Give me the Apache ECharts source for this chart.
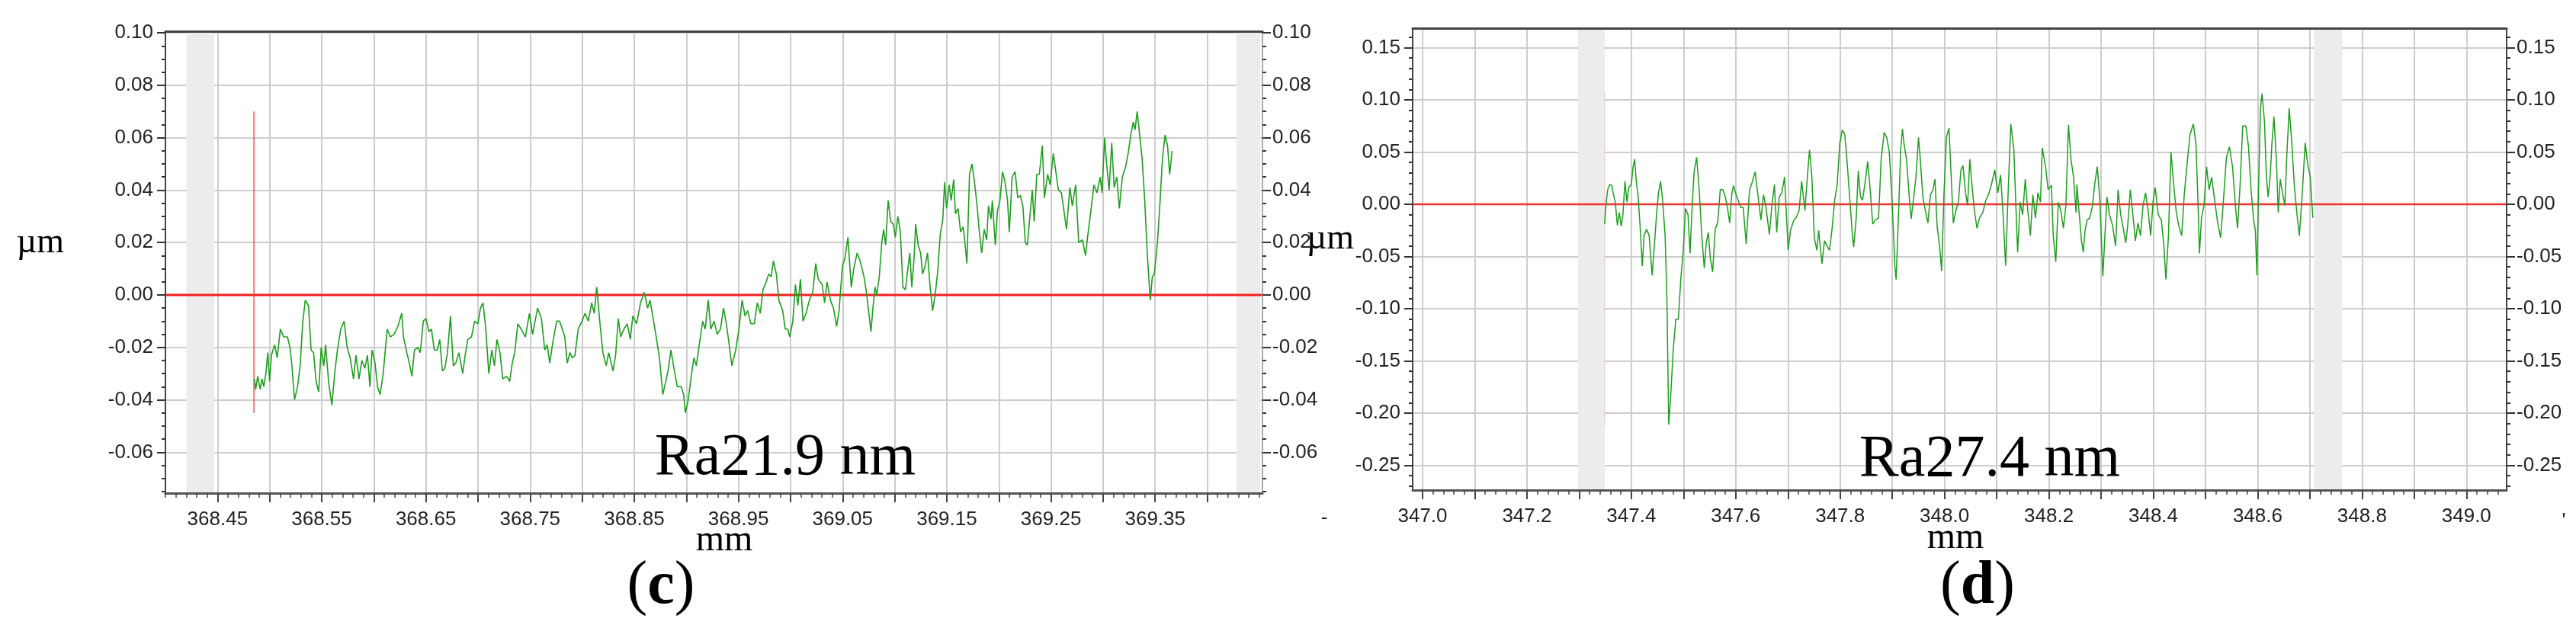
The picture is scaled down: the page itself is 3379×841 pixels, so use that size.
<!DOCTYPE html>
<html>
<head>
<meta charset="utf-8">
<script src="https://cdn.jsdelivr.net/npm/echarts@6/dist/echarts.min.js"></script>
<style>
html, body { margin: 0; padding: 0; background: #fff; }
#main { width: 3379px; height: 841px; }
</style>
</head>
<body>
<div id="main"></div>
<script>
// profile (c): [position mm, height µm]
var profileC = [
  [368.4854,-0.032],[368.4866,-0.036],[368.4886,-0.031],[368.4910,-0.036],[368.4927,-0.032],[368.4944,-0.035],[368.4964,-0.030],[368.4983,-0.022],[368.5000,-0.033],[368.5017,-0.023],
  [368.5049,-0.019],[368.5073,-0.024],[368.5103,-0.013],[368.5134,-0.016],[368.5171,-0.016],[368.5195,-0.020],[368.5212,-0.026],[368.5239,-0.040],[368.5268,-0.035],[368.5293,-0.027],
  [368.5317,-0.011],[368.5342,-0.002],[368.5373,-0.004],[368.5398,-0.021],[368.5422,-0.022],[368.5446,-0.033],[368.5471,-0.037],[368.5495,-0.020],[368.5520,-0.027],[368.5537,-0.019],
  [368.5568,-0.034],[368.5598,-0.042],[368.5627,-0.029],[368.5651,-0.021],[368.5683,-0.013],[368.5715,-0.010],[368.5744,-0.020],[368.5773,-0.024],[368.5805,-0.032],[368.5829,-0.023],
  [368.5858,-0.032],[368.5885,-0.025],[368.5914,-0.028],[368.5939,-0.023],[368.5963,-0.035],[368.5983,-0.021],[368.6012,-0.026],[368.6036,-0.035],[368.6061,-0.038],[368.6090,-0.030],
  [368.6129,-0.013],[368.6158,-0.016],[368.6195,-0.015],[368.6231,-0.012],[368.6268,-0.007],[368.6285,-0.016],[368.6317,-0.022],[368.6341,-0.026],[368.6366,-0.031],[368.6390,-0.021],
  [368.6422,-0.020],[368.6446,-0.022],[368.6475,-0.010],[368.6500,-0.009],[368.6529,-0.014],[368.6553,-0.013],[368.6580,-0.021],[368.6609,-0.021],[368.6634,-0.017],[368.6658,-0.029],
  [368.6682,-0.028],[368.6707,-0.022],[368.6736,-0.008],[368.6763,-0.027],[368.6787,-0.026],[368.6817,-0.022],[368.6853,-0.030],[368.6877,-0.023],[368.6902,-0.017],[368.6938,-0.016],
  [368.6968,-0.010],[368.6999,-0.011],[368.7024,-0.005],[368.7048,-0.003],[368.7073,-0.012],[368.7104,-0.030],[368.7133,-0.021],[368.7158,-0.027],[368.7182,-0.017],[368.7211,-0.022],
  [368.7238,-0.032],[368.7275,-0.031],[368.7304,-0.033],[368.7329,-0.026],[368.7353,-0.022],[368.7382,-0.011],[368.7414,-0.013],[368.7455,-0.016],[368.7494,-0.007],[368.7524,-0.015],
  [368.7572,-0.005],[368.7609,-0.009],[368.7641,-0.021],[368.7665,-0.019],[368.7689,-0.026],[368.7719,-0.018],[368.7755,-0.010],
  [368.7784,-0.010],[368.7809,-0.013],[368.7833,-0.016],[368.7857,-0.026],[368.7882,-0.022],[368.7906,-0.024],[368.7931,-0.023],[368.7962,-0.013],[368.7999,-0.010],[368.8028,-0.007],
  [368.8060,-0.010],[368.8091,-0.003],[368.8116,-0.007],[368.8140,0.003],[368.8169,-0.010],[368.8199,-0.022],[368.8230,-0.027],[368.8255,-0.022],[368.8279,-0.026],[368.8296,-0.029],
  [368.8321,-0.023],[368.8347,-0.009],[368.8369,-0.016],[368.8401,-0.013],[368.8433,-0.011],[368.8462,-0.017],[368.8486,-0.008],[368.8523,-0.011],[368.8560,-0.003],[368.8596,0.001],
  [368.8628,-0.005],[368.8652,-0.002],[368.8677,-0.008],[368.8711,-0.016],[368.8742,-0.024],[368.8774,-0.038],[368.8803,-0.033],[368.8828,-0.028],[368.8852,-0.021],[368.8881,-0.028],
  [368.8913,-0.035],[368.8950,-0.035],[368.8974,-0.038],[368.8991,-0.045],[368.9018,-0.040],[368.9047,-0.031],[368.9072,-0.024],[368.9096,-0.027],[368.9120,-0.020],[368.9157,-0.010],
  [368.9181,-0.013],[368.9210,-0.002],[368.9235,-0.013],[368.9267,-0.010],[368.9296,-0.015],[368.9328,-0.013],[368.9357,-0.005],[368.9384,-0.011],[368.9408,-0.018],[368.9437,-0.027],
  [368.9474,-0.021],[368.9505,-0.013],[368.9535,-0.002],[368.9564,-0.008],[368.9588,-0.006],[368.9620,-0.011],[368.9652,-0.011],[368.9681,-0.003],[368.9710,-0.007],[368.9735,0.002],
  [368.9766,0.005],[368.9791,0.008],[368.9815,0.007],[368.9835,0.013],[368.9864,0.008],[368.9888,-0.002],[368.9925,-0.006],[368.9949,-0.013],[368.9974,-0.013],[368.9993,-0.016],
  [369.0022,-0.010],[369.0047,0.004],[369.0071,-0.004],[369.0095,0.006],[369.0120,-0.010],[369.0149,-0.007],[369.0181,-0.002],[369.0213,0.001],[369.0242,0.012],[369.0266,0.006],
  [369.0303,0.004],[369.0327,-0.003],[369.0351,0.005],[369.0383,-0.002],[369.0412,-0.005],[369.0442,-0.012],[369.0466,-0.006],[369.0498,0.011],[369.0522,0.014],[369.0551,0.022],
  [369.0583,0.003],[369.0607,0.010],[369.0639,0.016],[369.0668,0.013],[369.0705,0.007],[369.0729,0.001],
  [369.0755,-0.008],[369.0772,-0.014],[369.0791,-0.005],[369.0811,0.003],[369.0828,0.000],[369.0852,0.007],[369.0876,0.020],[369.0894,0.025],[369.0913,0.019],[369.0937,0.036],
  [369.0962,0.028],[369.0986,0.027],[369.1006,0.022],[369.1030,0.030],[369.1054,0.024],[369.1079,0.003],[369.1103,0.002],[369.1120,0.008],[369.1145,0.016],[369.1164,0.003],
  [369.1186,0.014],[369.1201,0.027],[369.1225,0.019],[369.1249,0.016],[369.1267,0.008],[369.1291,0.011],[369.1315,0.016],[369.1340,0.003],[369.1364,-0.006],[369.1388,0.000],
  [369.1413,0.009],[369.1437,0.023],[369.1462,0.029],[369.1479,0.043],[369.1498,0.033],[369.1523,0.042],[369.1542,0.036],[369.1566,0.044],[369.1583,0.031],[369.1608,0.033],
  [369.1632,0.024],[369.1657,0.026],[369.1674,0.020],[369.1693,0.012],[369.1718,0.046],[369.1742,0.050],[369.1766,0.043],[369.1791,0.034],[369.1810,0.025],[369.1835,0.016],
  [369.1859,0.025],[369.1883,0.021],[369.1900,0.034],[369.1925,0.029],[369.1937,0.036],[369.1966,0.019],[369.1986,0.032],[369.2010,0.036],[369.2035,0.047],[369.2059,0.043],
  [369.2083,0.036],[369.2100,0.024],[369.2127,0.045],[369.2156,0.047],[369.2181,0.037],[369.2205,0.038],[369.2230,0.034],[369.2254,0.020],[369.2273,0.019],[369.2291,0.027],
  [369.2320,0.040],[369.2339,0.028],[369.2364,0.046],[369.2388,0.046],[369.2417,0.057],[369.2437,0.037],[369.2468,0.046],[369.2493,0.042],[369.2522,0.054],[369.2547,0.047],
  [369.2571,0.040],[369.2600,0.039],[369.2625,0.032],[369.2649,0.025],[369.2681,0.041],[369.2705,0.034],[369.2737,0.042],[369.2766,0.020],[369.2802,0.021],[369.2832,0.015],
  [369.2851,0.022],[369.2883,0.032],[369.2912,0.042],[369.2941,0.039],[369.2973,0.045],[369.2990,0.039],[369.3015,0.060],[369.3034,0.050],[369.3058,0.040],[369.3083,0.058],
  [369.3107,0.041],[369.3132,0.045],[369.3156,0.033],[369.3185,0.045],[369.3217,0.049],[369.3241,0.054],[369.3266,0.061],[369.3290,0.066],[369.3307,0.063],[369.3327,0.070],
  [369.3346,0.063],[369.3375,0.052],[369.3400,0.036],[369.3424,0.016],[369.3453,-0.002],[369.3473,0.007],[369.3492,0.008],[369.3522,0.020],[369.3546,0.035],[369.3570,0.052],
  [369.3595,0.061],[369.3619,0.057],[369.3639,0.046],[369.3663,0.055]
];

// profile (d): [position mm, height µm]
var profileD = [
  [347.3488,-0.019],[347.3513,-0.001],[347.3547,0.014],[347.3586,0.019],[347.3625,0.018],[347.3659,0.009],[347.3693,0.002],[347.3732,-0.020],[347.3771,-0.008],[347.3805,-0.021],
  [347.3839,-0.010],[347.3878,0.022],[347.3917,0.002],[347.3951,0.016],[347.4000,0.019],[347.4034,0.036],[347.4063,0.043],[347.4097,0.021],[347.4131,0.007],[347.4170,-0.023],
  [347.4209,-0.059],[347.4243,-0.030],[347.4292,-0.024],[347.4341,-0.030],[347.4399,-0.068],[347.4438,-0.042],[347.4487,-0.007],[347.4521,0.011],[347.4560,0.022],[347.4599,0.004],
  [347.4647,-0.030],[347.4682,-0.091],[347.4716,-0.211],[347.4755,-0.183],[347.4803,-0.139],[347.4852,-0.110],[347.4901,-0.110],[347.4949,-0.071],[347.4998,-0.042],[347.5037,-0.004],
  [347.5086,-0.010],[347.5125,-0.047],[347.5169,0.002],[347.5203,0.031],[347.5251,0.045],[347.5300,0.014],[347.5349,-0.030],[347.5397,-0.061],[347.5436,-0.037],[347.5475,-0.027],
  [347.5514,-0.052],[347.5558,-0.065],[347.5607,-0.024],[347.5656,-0.017],[347.5704,0.014],[347.5753,0.014],[347.5802,0.007],[347.5850,-0.006],[347.5884,-0.018],[347.5923,0.009],
  [347.5957,0.018],[347.5996,0.011],[347.6045,0.004],[347.6094,-0.003],[347.6143,-0.003],[347.6201,-0.038],[347.6264,0.014],[347.6303,0.019],[347.6371,0.031],[347.6420,0.011],
  [347.6483,-0.015],[347.6532,0.009],[347.6581,-0.003],[347.6644,-0.029],[347.6693,-0.001],[347.6742,0.019],[347.6785,-0.027],[347.6834,0.007],[347.6883,0.011],[347.6936,0.026],
  [347.7005,-0.044],[347.7053,-0.024],[347.7117,-0.015],[347.7165,-0.012],[347.7214,-0.006],[347.7263,0.022],[347.7326,-0.006],[347.7375,0.028],[347.7414,0.052],[347.7457,0.028],
  [347.7506,-0.032],[347.7555,-0.044],[347.7589,-0.025],[347.7652,-0.057],[347.7701,-0.035],[347.7750,-0.040],[347.7798,-0.044],[347.7847,-0.023],[347.7896,0.004],[347.7944,0.019],
  [347.7993,0.058],
  [347.8041,0.071],[347.8089,0.067],[347.8138,0.038],[347.8187,0.004],[347.8236,-0.030],[347.8260,-0.041],[347.8309,-0.013],[347.8348,0.032],[347.8391,0.007],[347.8430,0.004],
  [347.8479,0.021],[347.8528,0.041],[347.8576,0.014],[347.8625,-0.019],[347.8674,-0.015],[347.8737,-0.013],[347.8786,0.043],[347.8844,0.069],[347.8893,0.064],[347.8942,0.050],
  [347.9000,-0.001],[347.9049,-0.059],[347.9073,-0.072],[347.9112,-0.020],[347.9161,0.053],[347.9195,0.072],[347.9224,0.058],[347.9273,0.043],[347.9322,0.009],[347.9361,-0.014],
  [347.9404,0.004],[347.9453,0.026],[347.9502,0.064],[347.9536,0.043],[347.9585,0.007],[347.9633,-0.006],[347.9682,-0.018],[347.9731,0.009],[347.9779,0.014],[347.9818,0.024],
  [347.9857,-0.020],[347.9906,-0.040],[347.9945,-0.064],[347.9989,0.009],[348.0037,0.064],[348.0086,0.073],[348.0135,0.019],[348.0169,-0.018],[348.0218,-0.006],[348.0266,0.002],
  [348.0315,0.033],[348.0354,0.037],[348.0403,0.011],[348.0442,-0.001],[348.0485,0.043],[348.0534,0.014],[348.0573,-0.006],[348.0622,-0.023],[348.0671,-0.013],[348.0734,-0.008],
  [348.0792,0.004],[348.0841,0.009],[348.0899,0.019],[348.0963,0.033],[348.1021,0.011],[348.1075,0.028],[348.1123,-0.010],[348.1172,-0.059],[348.1221,0.014],[348.1270,0.077],
  [348.1328,0.053],[348.1367,-0.001],[348.1401,-0.046],[348.1450,0.002],[348.1498,-0.010],[348.1547,0.024],[348.1596,-0.006],[348.1645,-0.030],[348.1693,0.009],[348.1742,-0.013],
  [348.1791,0.011],[348.1839,0.002],[348.1873,0.054],[348.1937,0.036],[348.1985,0.014],[348.2049,0.018],[348.2083,-0.030],[348.2132,-0.055],[348.2180,0.002],[348.2229,-0.006],
  [348.2278,-0.023],[348.2326,-0.001],[348.2375,0.076],[348.2424,0.043],[348.2472,0.026],[348.2521,-0.008],
  [348.2537,0.019],[348.2576,-0.006],[348.2625,-0.035],[348.2659,-0.046],[348.2693,-0.025],[348.2732,-0.015],[348.2781,-0.013],[348.2830,-0.003],[348.2878,0.019],[348.2927,0.036],
  [348.2976,0.004],[348.3034,-0.069],[348.3073,-0.030],[348.3112,0.007],[348.3161,-0.010],[348.3219,-0.020],[348.3278,-0.040],[348.3326,0.014],[348.3375,-0.010],[348.3424,-0.023],
  [348.3472,-0.037],[348.3511,-0.020],[348.3560,0.014],[348.3609,-0.010],[348.3658,-0.035],[348.3706,-0.018],[348.3755,-0.030],[348.3804,-0.001],[348.3852,0.011],[348.3901,-0.006],
  [348.3950,-0.030],[348.3998,0.004],[348.4037,0.016],[348.4096,-0.010],[348.4154,-0.015],[348.4203,-0.040],[348.4242,-0.072],[348.4291,-0.030],[348.4339,0.050],[348.4388,0.021],
  [348.4437,-0.006],[348.4485,-0.020],[348.4544,-0.030],[348.4593,0.009],[348.4656,0.043],[348.4705,0.067],[348.4768,0.077],[348.4817,0.058],[348.4851,0.011],[348.4885,-0.047],
  [348.4924,-0.013],[348.4972,-0.001],[348.5021,0.036],[348.5070,0.014],[348.5119,0.026],[348.5167,0.007],[348.5226,-0.015],[348.5289,-0.032],[348.5338,-0.001],[348.5401,0.045],
  [348.5459,0.055],[348.5518,0.036],[348.5581,-0.006],[348.5615,-0.023],[348.5664,0.019],[348.5713,0.075],[348.5776,0.075],[348.5825,0.055],[348.5873,0.014],[348.5922,-0.015],
  [348.5956,-0.025],[348.5985,-0.068],[348.6019,0.019],[348.6054,0.092],[348.6083,0.106],[348.6131,0.079],[348.6166,0.028],[348.6200,0.007],[348.6239,0.026],[348.6273,0.058],
  [348.6312,0.084],[348.6360,0.041],[348.6394,-0.008],[348.6433,0.024],[348.6482,0.009],[348.6521,-0.001],[348.6555,0.043],[348.6604,0.092],[348.6653,0.060],[348.6701,0.019],
  [348.6750,-0.008],[348.6799,-0.030],[348.6847,0.004],[348.6911,0.059],[348.6959,0.038],[348.7008,0.026],[348.7057,-0.013]
];

// tick labels
var xLabelsC = [368.45, 368.55, 368.65, 368.75, 368.85, 368.95, 369.05, 369.15, 369.25, 369.35];
var yLabelsC = [-0.06, -0.04, -0.02, 0.00, 0.02, 0.04, 0.06, 0.08, 0.10];
var xLabelsD = [347.0, 347.2, 347.4, 347.6, 347.8, 348.0, 348.2, 348.4, 348.6, 348.8, 349.0];
var yLabelsD = [-0.25, -0.20, -0.15, -0.10, -0.05, 0.00, 0.05, 0.10, 0.15];

// annotations
var raC = 'Ra21.9 nm';
var raD = 'Ra27.4 nm';
var cursorC = [[368.485, 0.070], [368.485, -0.045]];
var cursorD = [[347.349, 0.107], [347.349, -0.212]];
var bandsC = [[368.420, 368.447], [369.428, 369.451]];
var bandsD = [[347.298, 347.349], [348.708, 348.762]];

var sans = "'Liberation Sans', Arial, sans-serif";
var serif = "'Liberation Serif', 'Times New Roman', serif";

function seq(a, b, s) {
  var out = [];
  var n = Math.round((b - a) / s);
  for (var i = 0; i <= n; i++) out.push(+(a + i * s).toFixed(4));
  return out;
}

var cX = [368.40, 369.453], cY = [-0.0756, 0.1006];
var dX = [346.981, 349.077], dY = [-0.2737, 0.1686];

function labelStyle(extra) {
  var s = { fontSize: 26, fontFamily: sans, color: '#222' };
  for (var k in extra) s[k] = extra[k];
  return s;
}

function xMain(grid, range, ticks, labels, digits) {
  return {
    type: 'value', gridIndex: grid, min: range[0], max: range[1], position: 'bottom',
    axisLine: { show: false, onZero: false },
    axisTick: { show: true, customValues: ticks, length: 12, lineStyle: { color: '#444', width: 2 } },
    axisLabel: labelStyle({ customValues: labels, margin: 22, formatter: function (v) { return v.toFixed(digits); } }),
    splitLine: { show: true, lineStyle: { color: '#cdcdcd', width: 2 } }
  };
}
function xMinor(grid, range, ticks) {
  return {
    type: 'value', gridIndex: grid, min: range[0], max: range[1], position: 'bottom', z: 10,
    axisLine: { show: true, onZero: false, lineStyle: { color: '#555', width: 3 } },
    axisTick: { show: true, customValues: ticks, length: 6, lineStyle: { color: '#444', width: 1.5 } },
    axisLabel: { show: false }, splitLine: { show: false }
  };
}
function xTop(grid, range) {
  return {
    type: 'value', gridIndex: grid, min: range[0], max: range[1], position: 'top', z: 10,
    axisLine: { show: true, onZero: false, lineStyle: { color: '#444', width: 3 } },
    axisTick: { show: false }, axisLabel: { show: false }, splitLine: { show: false }
  };
}
function yMain(grid, range, side, labels, split) {
  return {
    type: 'value', gridIndex: grid, min: range[0], max: range[1], position: side,
    axisLine: { show: false, onZero: false },
    axisTick: { show: true, customValues: labels, length: 11, lineStyle: { color: '#333', width: 2 } },
    axisLabel: labelStyle({ customValues: labels, margin: side === 'left' ? 16 : 13, formatter: function (v) { return v.toFixed(2); } }),
    splitLine: { show: split, lineStyle: { color: '#cdcdcd', width: 2 } }
  };
}
function yMinor(grid, range, side, ticks, lineColor) {
  return {
    type: 'value', gridIndex: grid, min: range[0], max: range[1], position: side, z: 10,
    axisLine: { show: true, onZero: false, lineStyle: { color: lineColor, width: 2 } },
    axisTick: { show: true, customValues: ticks, length: 5, lineStyle: { color: '#333', width: 2 } },
    axisLabel: { show: false }, splitLine: { show: false }
  };
}

var chart = echarts.init(document.getElementById('main'));

function band(bands, xi, yi) {
  return {
    type: 'line', xAxisIndex: xi, yAxisIndex: yi, data: [], z: 4, silent: true,
    markArea: {
      silent: true,
      itemStyle: { color: '#ececec' },
      data: bands.map(function (b) { return [{ xAxis: b[0] }, { xAxis: b[1] }]; })
    }
  };
}

function txt(x, y, text, size) {
  return { type: 'text', x: x, y: y, z: 20,
    style: { text: text, fontSize: size, fontFamily: serif, fill: '#000', align: 'center', verticalAlign: 'middle' } };
}
function panelTag(x, y, letter) {
  return { type: 'text', x: x, y: y, z: 20,
    style: { text: '{n|(}{b|' + letter + '}{n|)}', align: 'center', verticalAlign: 'middle',
      rich: { n: { fontSize: 80, fontFamily: serif, fill: '#000' },
              b: { fontSize: 80, fontFamily: serif, fontWeight: 'bold', fill: '#000' } } } };
}

var option = {
  animation: false,
  backgroundColor: '#fff',
  grid: [
    { left: 217, top: 41, width: 1439, height: 606 },
    { left: 1853, top: 37, width: 1435, height: 606 }
  ],
  xAxis: [
    xMain(0, cX, seq(368.45, 369.40, 0.05), xLabelsC, 2),
    xMinor(0, cX, seq(368.40, 369.45, 0.01)),
    xTop(0, cX),
    xMain(1, dX, seq(347.0, 349.0, 0.1), xLabelsD, 1),
    xMinor(1, dX, seq(347.0, 349.06, 0.02)),
    xTop(1, dX)
  ],
  yAxis: [
    yMain(0, cY, 'left', yLabelsC, true),
    yMinor(0, cY, 'left', seq(-0.075, 0.10, 0.005), '#444'),
    yMain(0, cY, 'right', yLabelsC, false),
    yMinor(0, cY, 'right', seq(-0.075, 0.10, 0.005), '#aaa'),
    yMain(1, dY, 'left', yLabelsD, true),
    yMinor(1, dY, 'left', seq(-0.27, 0.16, 0.01), '#444'),
    yMain(1, dY, 'right', yLabelsD, false),
    yMinor(1, dY, 'right', seq(-0.27, 0.16, 0.01), '#444')
  ],
  series: [
    { type: 'line', xAxisIndex: 0, yAxisIndex: 0, z: 2, silent: true, symbol: 'none',
      data: [[cX[0], 0], [cX[1], 0]], lineStyle: { color: '#ff1f1f', width: 3 } },
    band(bandsC, 0, 0),
    { type: 'line', xAxisIndex: 0, yAxisIndex: 0, z: 5, silent: true, symbol: 'none',
      data: cursorC, lineStyle: { color: 'rgba(240,70,70,0.7)', width: 2 } },
    { type: 'line', xAxisIndex: 0, yAxisIndex: 0, z: 6, silent: true, symbol: 'none',
      data: profileC, lineStyle: { color: '#1e9e1e', width: 1.6 } },

    { type: 'line', xAxisIndex: 3, yAxisIndex: 4, z: 2, silent: true, symbol: 'none',
      data: [[dX[0], 0], [dX[1], 0]], lineStyle: { color: '#f23030', width: 2.5 } },
    band(bandsD, 3, 4),
    { type: 'line', xAxisIndex: 3, yAxisIndex: 4, z: 5, silent: true, symbol: 'none',
      data: cursorD, lineStyle: { color: 'rgba(245,140,140,0.5)', width: 1 } },
    { type: 'line', xAxisIndex: 3, yAxisIndex: 4, z: 6, silent: true, symbol: 'none',
      data: profileD, lineStyle: { color: '#1e9e1e', width: 1.5 } }
  ],
  graphic: [
    txt(53, 319, 'µm', 46),
    txt(1745, 314, 'µm', 46),
    txt(950, 709, 'mm', 48),
    txt(2565, 706, 'mm', 48),
    txt(1030, 602, raC, 78),
    txt(2610, 604, raD, 78),
    panelTag(867, 770, 'c'),
    panelTag(2594, 770, 'd'),
    { type: 'text', x: 1737, y: 680, z: 20, style: { text: '-', fontSize: 26, fontFamily: sans, fill: '#222', align: 'center', verticalAlign: 'middle' } },
    { type: 'text', x: 3363, y: 684, z: 20, style: { text: "'", fontSize: 26, fontFamily: sans, fill: '#222', align: 'center', verticalAlign: 'middle' } }
  ]
};

chart.setOption(option);
</script>
</body>
</html>
